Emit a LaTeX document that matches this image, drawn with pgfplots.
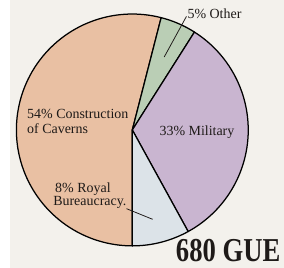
\documentclass[border=0pt]{standalone}
\usepackage{fontspec}
\setmainfont{Liberation Serif}
\usepackage{graphicx}
\usepackage{pgfplots}
\usepackage{pgfplotstable}
\usepgfplotslibrary{polar}
\pgfplotsset{compat=1.18}
\definecolor{bg}{RGB}{243,241,236}
\definecolor{peach}{RGB}{233,192,163}
\definecolor{sage}{RGB}{186,206,181}
\definecolor{lavender}{RGB}{201,181,208}
\definecolor{paleblue}{RGB}{220,227,232}
\definecolor{ink}{RGB}{30,26,24}
\pgfplotstableread{
label pct
Construction 54
Other 5
Military 33
Royal 8
}\piedata
\begin{document}
\pgfplotstablegetelem{0}{pct}\of\piedata \let\pA\pgfplotsretval
\pgfplotstablegetelem{1}{pct}\of\piedata \let\pB\pgfplotsretval
\pgfplotstablegetelem{2}{pct}\of\piedata \let\pC\pgfplotsretval
\pgfplotstablegetelem{3}{pct}\of\piedata \let\pD\pgfplotsretval
\pgfmathsetmacro{\aA}{270-3.6*\pA}
\pgfmathsetmacro{\aB}{\aA-3.6*\pB}
\pgfmathsetmacro{\aC}{\aB-3.6*\pC}
\pgfmathsetmacro{\aD}{\aC-3.6*\pD}
\begin{tikzpicture}[x=1bp,y=1bp]
\path[use as bounding box] (0,0) rectangle (284,277);
\fill[bg] (0,0) rectangle (284,277);
\begin{polaraxis}[at={(127,142.5)}, anchor=center, scale only axis,
  width=240bp, height=240bp, hide axis, ymin=0, ymax=120, xmin=0, xmax=360, clip=false]
\addplot[fill=peach, draw=black, line width=1.3bp, line join=round, domain=\aA:270, samples=90] {120} -- (axis cs:0,0) -- cycle;
\addplot[fill=sage, draw=black, line width=1.3bp, line join=round, domain=\aB:\aA, samples=20] {120} -- (axis cs:0,0) -- cycle;
\addplot[fill=lavender, draw=black, line width=1.3bp, line join=round, domain=\aC:\aB, samples=60] {120} -- (axis cs:0,0) -- cycle;
\addplot[fill=paleblue, draw=black, line width=1.3bp, line join=round, domain=\aD:\aC, samples=20] {120} -- (axis cs:0,0) -- cycle;
\end{polaraxis}
\begin{scope}[every node/.style={inner sep=0pt, text=ink, font=\fontsize{14.5}{17}\selectfont}]
\node[anchor=base west] at (184,258) {5\% Other};
\node[anchor=base west] at (18,154) {54\% Construction};
\node[anchor=base west] at (18,139) {of Caverns};
\node[anchor=base west] at (155,137) {33\% Military};
\node[anchor=base west] at (47,78) {8\% Royal};
\node[anchor=base west] at (45,64) {Bureaucracy.};
\node[anchor=base west] at (172,6) {\resizebox{108bp}{23bp}{\bfseries 680 GUE}};
\end{scope}
\draw[ink, line width=0.8bp] (183,260) -- (160,218);
\draw[ink, line width=0.8bp] (121,61) -- (148,50);
\end{tikzpicture}
\end{document}
